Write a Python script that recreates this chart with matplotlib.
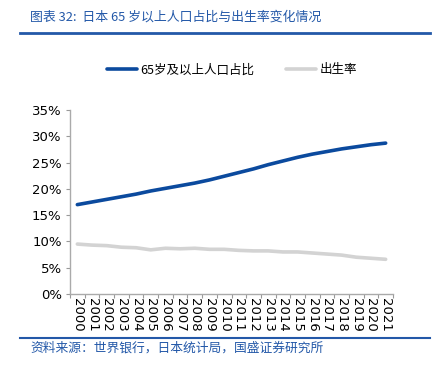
import matplotlib
matplotlib.use("Agg")
import matplotlib.pyplot as plt
from matplotlib.lines import Line2D

plt.rcParams['font.family'] = ['Noto Sans CJK SC', 'DejaVu Sans']

years = [str(y) for y in range(2000, 2022)]
aged_65 = [17.0, 17.5, 18.0, 18.5, 19.0, 19.6, 20.1, 20.6, 21.1, 21.7, 22.4,
           23.1, 23.8, 24.6, 25.3, 26.0, 26.6, 27.1, 27.6, 28.0, 28.4, 28.7]
birth_rate = [9.5, 9.3, 9.2, 8.9, 8.8, 8.4, 8.7, 8.6, 8.7, 8.5, 8.5,
              8.3, 8.2, 8.2, 8.0, 8.0, 7.8, 7.6, 7.4, 7.0, 6.8, 6.6]
yticks = [0, 5, 10, 15, 20, 25, 30, 35]

blue = '#0B4A9E'
gray = '#D3D3D3'
title_blue = '#2358A8'

fig = plt.figure(figsize=(4.33, 3.67), dpi=100)
ax = fig.add_axes([70/433, 1-294/367, 323/433, 184/367])

x = list(range(len(years)))
l1, = ax.plot(x, aged_65, color=blue, lw=2.6, solid_capstyle='round')
l2, = ax.plot(x, birth_rate, color=gray, lw=2.6, solid_capstyle='round')

ax.set_xlim(-0.5, len(years) - 0.5)
ax.set_ylim(0, 35)
ax.set_yticks(yticks)
ax.set_yticklabels([f"{v}%" for v in yticks], family='DejaVu Sans', fontsize=9.5)
ax.set_xticks([i - 0.5 for i in range(len(years) + 1)], minor=False)
ax.set_xticklabels([])
ax.set_xticks(x, minor=True)
ax.set_xticklabels(years, minor=True, rotation=270, family='DejaVu Sans', fontsize=9.5)
ax.tick_params(axis='x', which='minor', length=0, pad=3)
ax.tick_params(axis='x', which='major', length=3, color='#999999')
ax.tick_params(axis='y', length=3, color='#999999', pad=3)

for s in ['top', 'right']:
    ax.spines[s].set_visible(False)
for s in ['left', 'bottom']:
    ax.spines[s].set_color('#AAAAAA')
    ax.spines[s].set_linewidth(1.0)

leg = fig.legend([l1, l2], ['65岁及以上人口占比', '出生率'], loc='center',
                 bbox_to_anchor=(232/433, 1-70/367), ncol=2, frameon=False,
                 fontsize=9, handlelength=2.4, handletextpad=0.3, columnspacing=2.5)

fig.text(30/433, 1-17/367, '图表 32:  日本 65 岁以上人口占比与出生率变化情况',
         color=title_blue, fontsize=9.3, style='italic', va='center', ha='left')
fig.add_artist(Line2D([20/433, 430/433], [1-33/367, 1-33/367], color=title_blue, lw=2))
fig.add_artist(Line2D([20/433, 430/433], [1-338/367, 1-338/367], color=title_blue, lw=1.5))
fig.text(30/433, 1-348/367, '资料来源：世界银行，日本统计局，国盛证券研究所',
         color=title_blue, fontsize=9.2, style='italic', va='center', ha='left')

fig.savefig('out.png', dpi=100)
